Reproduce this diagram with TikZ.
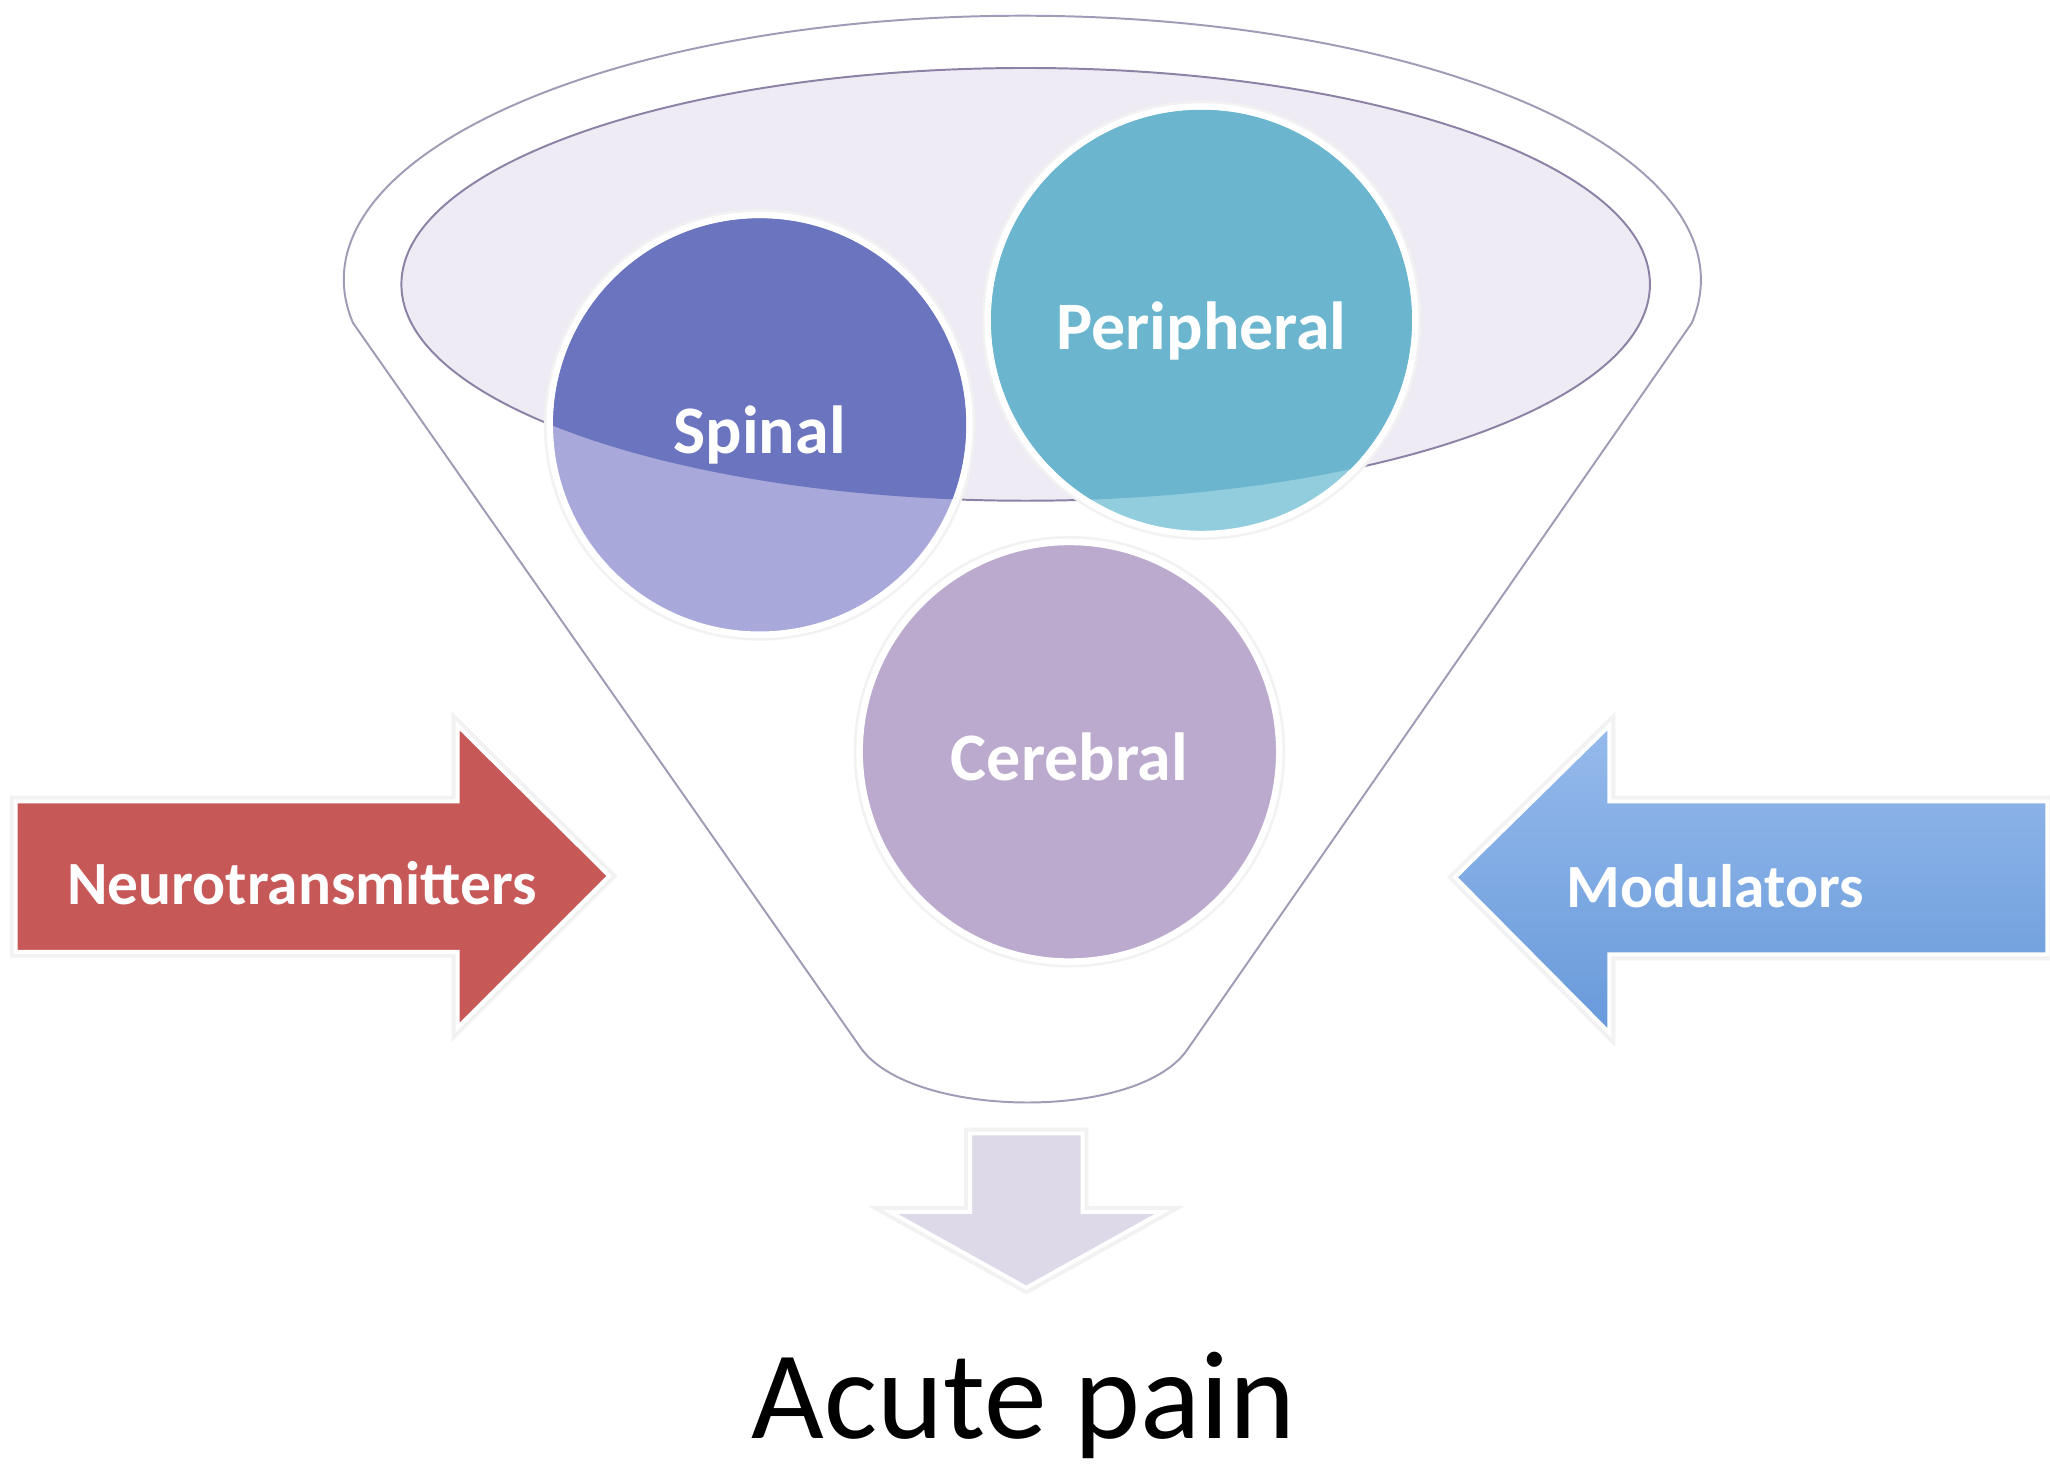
\documentclass[tikz,border=0pt]{standalone}
\usepackage{fontspec}
\setmainfont{Carlito}
\usepackage{xcolor}
\usepackage{tikz}
\usetikzlibrary{positioning}

\definecolor{spinaldark}{RGB}{107,116,190}
\definecolor{spinallight}{RGB}{168,168,218}
\definecolor{peridark}{RGB}{107,181,207}
\definecolor{perilight}{RGB}{146,205,221}
\definecolor{cerebcol}{RGB}{187,170,206}
\definecolor{bowlfill}{RGB}{239,235,244}
\definecolor{bowlline}{RGB}{140,130,165}
\definecolor{funnelline}{RGB}{160,155,182}
\definecolor{redarrow}{RGB}{199,88,88}
\definecolor{bluetop}{RGB}{150,186,236}
\definecolor{bluebottom}{RGB}{104,154,218}
\definecolor{downfill}{RGB}{221,217,233}

\begin{document}
\begin{tikzpicture}[x=1pt, y=-1pt,
    halo/.style={preaction={draw=black!5, line width=9pt}},
    bubble/.style={circle, draw=white, line width=5pt, halo, inner sep=0pt},
    bubbletext/.style={text=white, font=\fontsize{52}{60}\selectfont\bfseries, anchor=base},
    arrowtext/.style={text=white, font=\fontsize{47}{54}\selectfont\bfseries, anchor=base},
    shapeedge/.style={draw=white, line width=3pt, line join=miter, halo}]
    \useasboundingbox (0,0) rectangle (1568,1129);

    % Funnel outline
    \draw[funnelline, line width=1.5pt, fill=white] (270,247)
        arc[start angle=170.6, end angle=369.4, x radius=519, y radius=202]
        -- (908,803) .. controls (870,858) and (696,856) .. (658,801) -- cycle;

    % Mouth of the funnel
    \draw[draw=bowlline, line width=1.5pt, fill=bowlfill] (784.5,217.5) ellipse [x radius=477.5, y radius=165.5];

    % The three levels
    \node[bubble, fill=spinallight, minimum size=321pt] (spinal) at (581,325) {};
    \node[bubble, fill=perilight, minimum size=327pt] (peripheral) at (919,245) {};
    \node[bubble, fill=cerebcol, minimum size=321pt] (cerebral) at (818,575) {};

    % Darker where the mouth covers them
    \begin{scope}
        \clip (784.5,217.5) ellipse [x radius=477.5, y radius=165.5];
        \fill[spinaldark] (spinal.center) circle (158);
        \fill[peridark] (peripheral.center) circle (161);
    \end{scope}

    \node[bubbletext] (spinallabel) at ([yshift=-22pt]spinal.center) {Spinal};
    \node[bubbletext] (perilabel) at ([yshift=-22pt]peripheral.center) {Peripheral};
    \node[bubbletext] (cereblabel) at ([yshift=-22pt]cerebral.center) {Cerebral};

    % Side arrows
    \draw[shapeedge, fill=redarrow] (12,613) -- (350,613) -- (350,555) -- (466,670)
        -- (350,786) -- (350,728) -- (12,728) -- cycle;
    \draw[shapeedge, top color=bluetop, bottom color=bluebottom] (1566,613) -- (1231,613) -- (1231,555)
        -- (1113,671) -- (1231,790) -- (1231,730) -- (1566,730) -- cycle;
    \node[arrowtext] (neuro) at (231,692) {Neurotransmitters};
    \node[arrowtext] (modul) at (1312,694) {Modulators};

    % Output
    \draw[shapeedge, fill=downfill] (742,867) -- (828,867) -- (828,927) -- (889,927)
        -- (785,985) -- (681,927) -- (742,927) -- cycle;
    \node[anchor=base, font=\fontsize{96}{110}\selectfont] (acute) at (783,1100) {Acute pain};
\end{tikzpicture}
\end{document}
